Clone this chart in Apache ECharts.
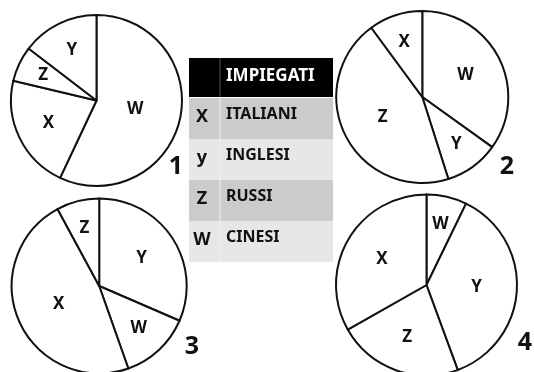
<!DOCTYPE html>
<html>
<head>
<meta charset="utf-8">
<script src="https://cdn.jsdelivr.net/npm/echarts@6/dist/echarts.min.js"></script>
<style>
html, body {margin: 0; padding: 0; background: #fff;}
#chart {width: 534px; height: 372px;}
</style>
</head>
<body>
<div id="chart"></div>
<script>
// slices listed clockwise from 12 o'clock
var pie1Names = ["W", "X", "Z", "Y"], pie1Values = [57, 21.7, 6.7, 14.6];
var pie2Names = ["W", "Y", "Z", "X"], pie2Values = [34.9, 10.2, 44.8, 10.1];
var pie3Names = ["Y", "W", "X", "Z"], pie3Values = [31.5, 13.1, 47.5, 7.9];
var pie4Names = ["W", "Y", "Z", "X"], pie4Values = [7.2, 37.2, 22.4, 33.2];
var pieNumbers = ["1", "2", "3", "4"];

var tableHeader = "IMPIEGATI";
var tableLetters = ["X", "y", "Z", "W"];
var tableNames = ["ITALIANI", "INGLESI", "RUSSI", "CINESI"];

var font = "'Noto Sans', 'Open Sans', sans-serif";
var pies = [
    {names: pie1Names, values: pie1Values, center: [96.5, 100.5], r: 85.5, num: [176, 167]},
    {names: pie2Names, values: pie2Values, center: [422.3, 97], r: 86, num: [507, 167]},
    {names: pie3Names, values: pie3Values, center: [99.2, 286], r: 87.5, num: [192, 347]},
    {names: pie4Names, values: pie4Values, center: [426.5, 285], r: 90.5, num: [525, 343]}
];

var series = [], graphic = [];
for (var i = 0; i < pies.length; i++) {
    var p = pies[i], data = [];
    for (var j = 0; j < p.names.length; j++) data.push({name: p.names[j], value: p.values[j]});
    series.push({
        type: "pie",
        silent: true,
        center: p.center,
        radius: p.r,
        startAngle: 90,
        clockwise: true,
        avoidLabelOverlap: false,
        itemStyle: {color: "#fff", borderColor: "#111", borderWidth: 2},
        label: {show: true, position: "inside", formatter: "{b}", color: "#111", fontFamily: font, fontWeight: "bold", fontSize: 17},
        labelLine: {show: false},
        // small slices carry their letter further out, as in the picture
        labelLayout: function (prm) {
            var s = pies[prm.seriesIndex], tot = 0;
            for (var k = 0; k < s.values.length; k++) tot += s.values[k];
            var pct = s.values[prm.dataIndex] / tot * 100;
            var frac = 0.72 - 0.45 * pct / 100;
            var lx = prm.labelRect.x + prm.labelRect.width / 2 - s.center[0];
            var ly = prm.labelRect.y + prm.labelRect.height / 2 - s.center[1];
            var d = Math.sqrt(lx * lx + ly * ly) || 1, t = frac * s.r;
            return {dx: lx / d * (t - d), dy: ly / d * (t - d)};
        },
        data: data
    });
    graphic.push({
        type: "text", x: p.num[0], y: p.num[1],
        style: {text: pieNumbers[i], fill: "#111", font: "bold 25px " + font, align: "center", verticalAlign: "middle"}
    });
}

/* tabella legenda */
var tx = 189, ty = 58, tw = 144, hh = 39, rh = 41, split = 220;
graphic.push({type: "rect", shape: {x: tx, y: ty, width: tw, height: hh}, style: {fill: "#000"}});
graphic.push({type: "line", shape: {x1: split, y1: ty, x2: split, y2: ty + hh}, style: {stroke: "#555", lineWidth: 1}});
graphic.push({
    type: "text", x: 226, y: ty + hh / 2 - 1,
    style: {text: tableHeader, fill: "#fff", font: "bold 17px " + font, verticalAlign: "middle"}
});
for (var r = 0; r < tableLetters.length; r++) {
    var ry = ty + hh + 1 + r * rh;
    graphic.push({type: "rect", shape: {x: tx, y: ry, width: tw, height: rh}, style: {fill: r % 2 == 0 ? "#cbcbcb" : "#e7e7e7"}});
    graphic.push({type: "line", shape: {x1: split, y1: ry, x2: split, y2: ry + rh}, style: {stroke: "#f2f2f2", lineWidth: 1}});
    graphic.push({
        type: "text", x: 202, y: ry + rh / 2 - 2,
        style: {text: tableLetters[r], fill: "#111", font: "bold 18px " + font, align: "center", verticalAlign: "middle"}
    });
    graphic.push({
        type: "text", x: 226, y: ry + rh / 2 - 4,
        style: {text: tableNames[r], fill: "#111", font: "bold 16px " + font, verticalAlign: "middle"}
    });
}

var myChart = echarts.init(document.getElementById("chart"));
myChart.setOption({
    animation: false,
    backgroundColor: "#fff",
    series: series,
    graphic: graphic
});
</script>
</body>
</html>
